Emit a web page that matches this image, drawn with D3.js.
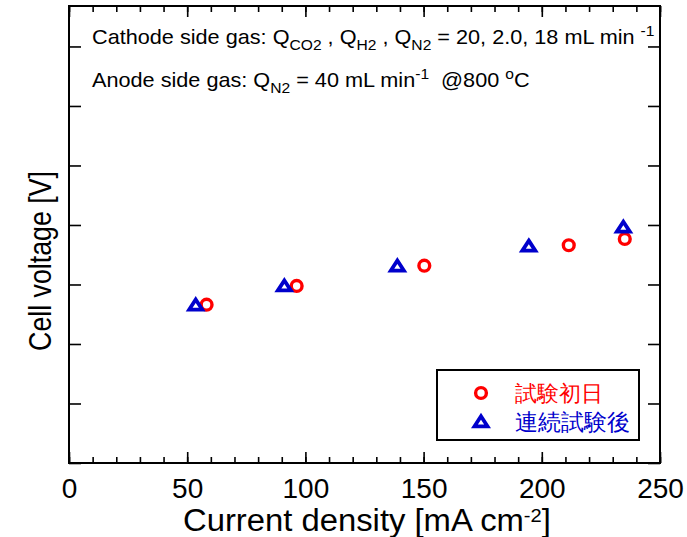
<!DOCTYPE html>
<html><head><meta charset="utf-8">
<script src="https://cdn.jsdelivr.net/npm/d3@7"></script>
<style>
body{margin:0;background:#fff}
svg{display:block}
text{font-family:"Liberation Sans",Arial,sans-serif;white-space:pre}
</style>
</head><body>
<svg id="c" width="687" height="537"></svg>
<script>
// ---- data ----
const seriesNames = ["試験初日", "連続試験後"];
const currentDay1 = [58.2, 96.3, 150.3, 211.4, 235.1];
const voltageDay1 = [0.866, 0.8975, 0.9316, 0.9659, 0.9765];
const currentAfter = [53.6, 91.1, 138.9, 194.5, 234.5];
const voltageAfter = [0.8635, 0.8956, 0.929, 0.9625, 0.9943];
const xMajorTicks = [0, 50, 100, 150, 200, 250];
const xMinorTicks = d3.range(0, 251, 10);
const yMajorTicks = [0.6, 0.7, 0.8, 0.9, 1.0, 1.1, 1.2, 1.3];
const xLabel = "Current density [mA cm";
const yLabel = "Cell voltage [V]";

const RED = "#ff0000", BLUE = "#0000cc";
const svg = d3.select("#c");
const L = 69, R = 660, T = 6, B = 463;
const x = d3.scaleLinear().domain([0, 250]).range([L, R]);
const y = d3.scaleLinear().domain([0.6, 1.368]).range([B, T]);

function clean(g){ g.select(".domain").remove(); g.selectAll("line").attr("stroke","#000").attr("stroke-width",1.6); }

// bottom axis
svg.append("g").attr("transform",`translate(0,${B})`)
  .call(d3.axisBottom(x).tickValues(xMinorTicks).tickSize(-6).tickFormat(""))
  .call(clean);
svg.append("g").attr("transform",`translate(0,${B})`)
  .call(d3.axisBottom(x).tickValues(xMajorTicks).tickSize(-11).tickPadding(15).tickFormat(d3.format("d")))
  .call(clean)
  .call(g=>g.selectAll("text").attr("font-size",28).attr("fill","#000").attr("font-family","Liberation Sans, Arial, sans-serif"));
// top axis
svg.append("g").attr("transform",`translate(0,${T})`)
  .call(d3.axisTop(x).tickValues(xMinorTicks).tickSize(-6).tickFormat(""))
  .call(clean);
svg.append("g").attr("transform",`translate(0,${T})`)
  .call(d3.axisTop(x).tickValues(xMajorTicks).tickSize(-11).tickFormat(""))
  .call(clean);
// left / right axes
svg.append("g").attr("transform",`translate(${L},0)`)
  .call(d3.axisLeft(y).tickValues(yMajorTicks).tickSize(-12).tickFormat(""))
  .call(clean);
svg.append("g").attr("transform",`translate(${R},0)`)
  .call(d3.axisRight(y).tickValues(yMajorTicks).tickSize(-12).tickFormat(""))
  .call(clean);
// frame
svg.append("rect").attr("x",L).attr("y",T).attr("width",R-L).attr("height",B-T)
  .attr("fill","none").attr("stroke","#000").attr("stroke-width",2);

// annotation lines
function addLine(parts, fs){
  const g = svg.append("g");
  const t = g.append("text").attr("font-size",fs).attr("fill","#000");
  let shift = 0;
  parts.forEach(p=>{
    const [s, kind] = p;
    const target = kind==="sub"? 6 : kind==="sup" ? -8 : 0;
    const ts = t.append("tspan").text(s).attr("dy", target - shift);
    if(kind) ts.attr("font-size", fs*0.72);
    shift = target;
  });
  return {g,t};
}
const line1 = addLine([["Cathode side gas: Q"],["CO2","sub"],[" , Q"],["H2","sub"],[" , Q"],["N2","sub"],[" = 20, 2.0, 18 mL min "],["-1","sup"]], 20.5);
const sc = 563 / line1.t.node().getComputedTextLength();
line1.g.attr("transform",`translate(92,44) scale(${sc},1)`);
const line2 = addLine([["Anode side gas: Q"],["N2","sub"],[" = 40 mL min"],["-1","sup"],["  @800 "],["o","sup"],["C"]], 20.5);
line2.g.attr("transform",`translate(92,87) scale(${sc},1)`);

// axis titles
const xl = svg.append("text").attr("font-size",31).attr("fill","#000");
xl.append("tspan").text(xLabel);
xl.append("tspan").text("-2").attr("font-size",19).attr("dy",-9).attr("dx",0);
xl.append("tspan").text("]").attr("dy",9);
const xs = 368 / xl.node().getComputedTextLength();
xl.attr("transform",`translate(183,531) scale(${xs},1)`);

const yl = svg.append("text").attr("font-size",31).attr("fill","#000").text(yLabel);
const ys = 180 / yl.node().getComputedTextLength();
yl.attr("text-anchor","middle").attr("transform",`translate(51,261) rotate(-90) scale(${ys},1)`);

// markers
const triType = { draw(ctx){ const w = 13, h = 10; ctx.moveTo(0,-h*2/3); ctx.lineTo(w/2,h/3); ctx.lineTo(-w/2,h/3); ctx.closePath(); } };
const day1 = d3.zip(currentDay1, voltageDay1);
const after = d3.zip(currentAfter, voltageAfter);
svg.append("g").selectAll("circle").data(day1).join("circle")
  .attr("cx",d=>x(d[0])).attr("cy",d=>y(d[1])).attr("r",5.4)
  .attr("fill","none").attr("stroke",RED).attr("stroke-width",3.4);
svg.append("g").selectAll("path").data(after).join("path")
  .attr("d",d3.symbol().type(triType))
  .attr("transform",d=>`translate(${x(d[0])},${y(d[1])})`)
  .attr("fill","none").attr("stroke",BLUE).attr("stroke-width",3.8).attr("stroke-linejoin","miter");

// legend
const lg = svg.append("g");
lg.append("rect").attr("x",437).attr("y",370).attr("width",202).attr("height",70)
  .attr("fill","#fff").attr("stroke","#000").attr("stroke-width",2);
lg.append("circle").attr("cx",481).attr("cy",393).attr("r",5.4).attr("fill","none").attr("stroke",RED).attr("stroke-width",3.4);
lg.append("path").attr("d",d3.symbol().type(triType)).attr("transform","translate(481,423)")
  .attr("fill","none").attr("stroke",BLUE).attr("stroke-width",3.8);
lg.append("text").attr("x",515).attr("y",401).attr("font-size",22.3).attr("fill",RED)
  .attr("font-family","'Noto Sans CJK JP',sans-serif").text(seriesNames[0]);
lg.append("text").attr("x",515).attr("y",430).attr("font-size",22.6).attr("fill",BLUE)
  .attr("font-family","'Noto Sans CJK JP',sans-serif").text(seriesNames[1]);
</script>
</body></html>
